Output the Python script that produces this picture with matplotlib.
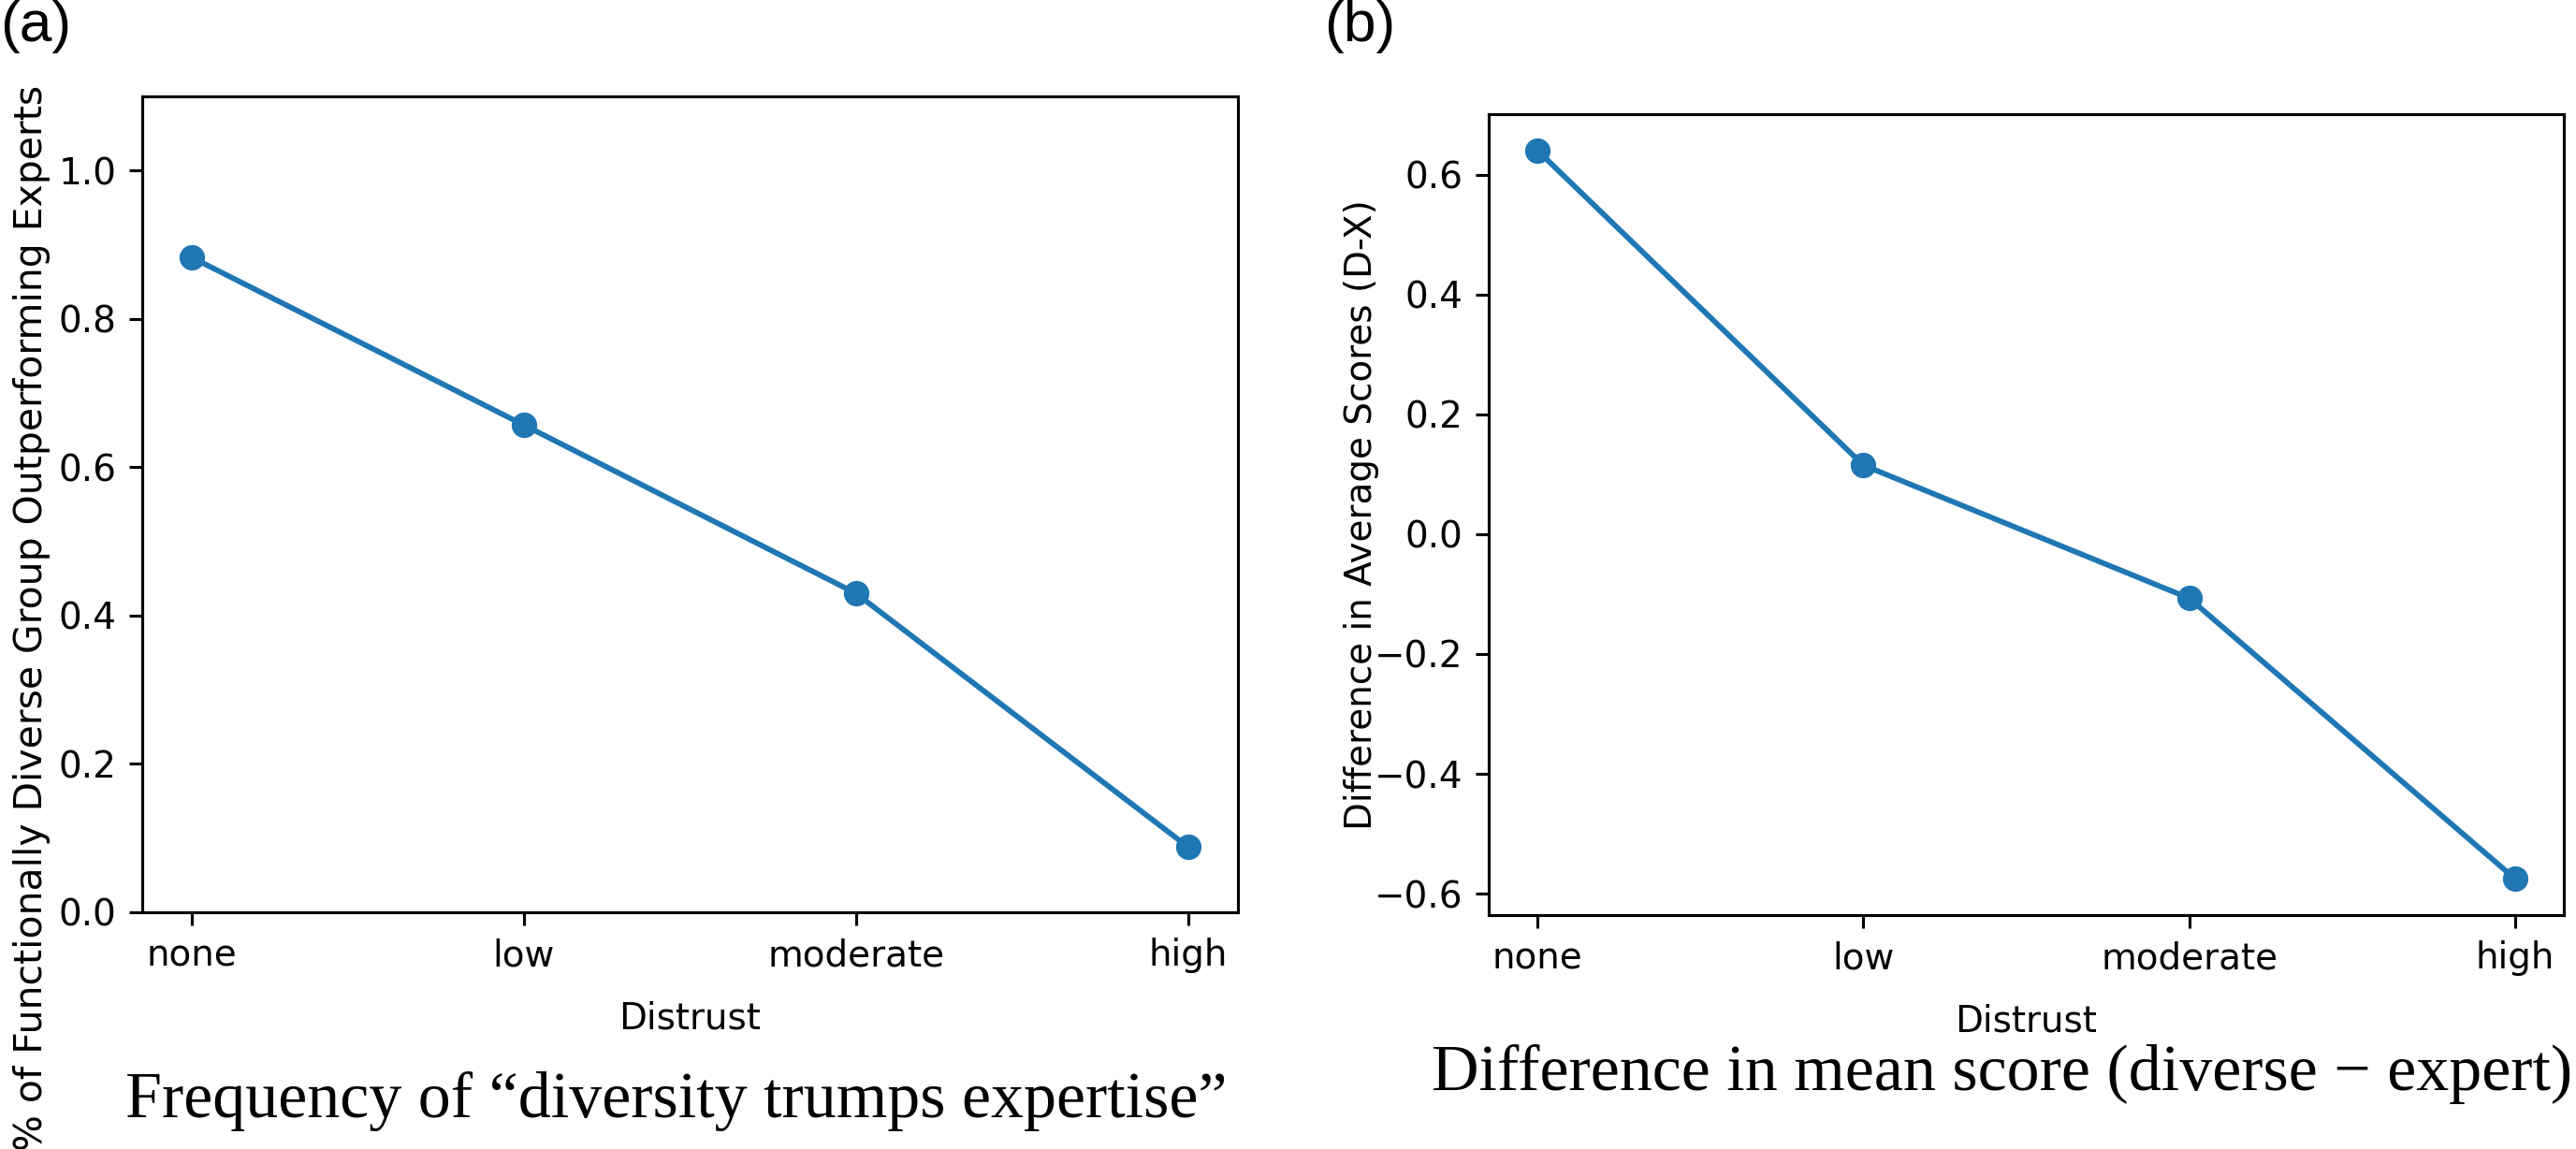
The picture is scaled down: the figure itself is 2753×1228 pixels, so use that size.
import matplotlib
matplotlib.use("Agg")
import matplotlib.pyplot as plt

# distrust levels on the x axis
levels = ["none", "low", "moderate", "high"]

# (a) share of runs where the diverse group beats the experts
freq_diverse_wins = [0.883, 0.657, 0.430, 0.088]

# (b) mean score difference, diverse minus expert
mean_diff = [0.640, 0.115, -0.107, -0.575]

W, H, DPI = 2753, 1228, 280
fig = plt.figure(figsize=(W / DPI, H / DPI), dpi=DPI)

# panel (a)
ax1 = fig.add_axes([151.5 / W, (H - 975) / H, 1171.5 / W, 872 / H])
ax1.plot(levels, freq_diverse_wins, marker="o")
ax1.set_ylim(0, 1.1)
ax1.set_xlabel("Distrust", labelpad=7.5)
ax1.set_ylabel("% of Functionally Diverse Group Outperforming Experts", fontsize=10.5)
ax1.yaxis.set_label_coords(-0.083, 0.361)

# panel (b)
ax2 = fig.add_axes([1591 / W, (H - 978) / H, 1149 / W, 856 / H])
ax2.plot(levels, mean_diff, marker="o")
ax2.set_xlabel("Distrust", labelpad=7.5)
ax2.set_ylabel("Difference in Average Scores (D-X)")
ax2.yaxis.set_label_coords(-0.102, 0.5)

# panel tags
fig.text(0 / W, 1 - 44 / H, "(a)", fontsize=16, family="Liberation Sans", va="baseline")
fig.text(1415 / W, 1 - 44 / H, "(b)", fontsize=16, family="Liberation Sans", va="baseline")

# sub-captions
fig.text(134 / W, (H - 1194) / H, "Frequency of \u201cdiversity trumps expertise\u201d",
         fontsize=18, family="Liberation Serif", va="baseline")
fig.text(1530 / W, (H - 1165) / H, "Difference in mean score (diverse \u2212 expert)",
         fontsize=18, family="Liberation Serif", va="baseline")

fig.savefig("out.png", dpi=DPI)
